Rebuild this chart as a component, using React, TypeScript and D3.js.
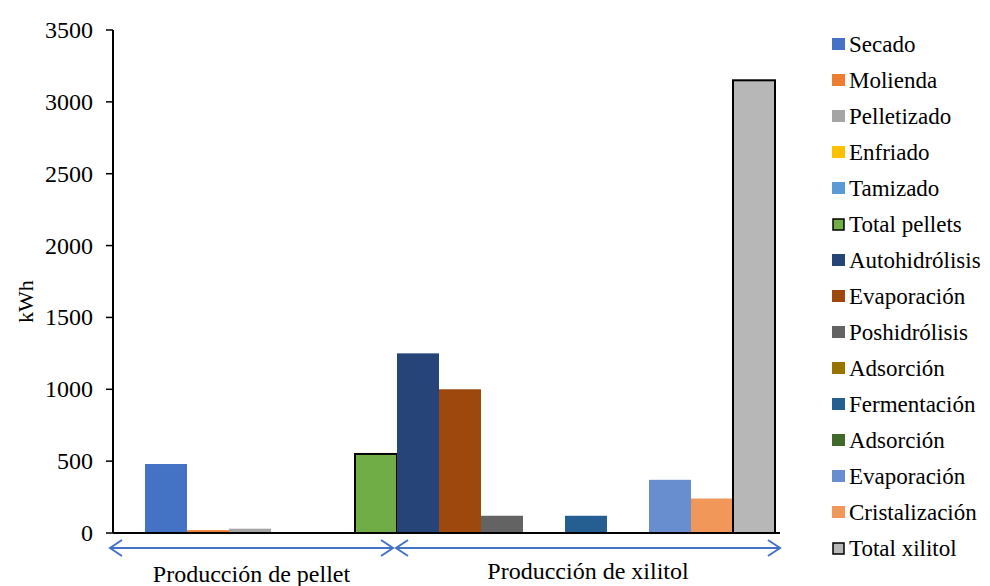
import React from "react";
import * as d3 from "d3";

// Energy consumption per process stage (kWh)
const stages = [
  "Secado", "Molienda", "Pelletizado", "Enfriado", "Tamizado", "Total pellets",
  "Autohidrólisis", "Evaporación", "Poshidrólisis", "Adsorción", "Fermentación",
  "Adsorción", "Evaporación", "Cristalización", "Total xilitol",
];
const energy = [480, 20, 30, 5, 0, 550, 1250, 1000, 120, 3, 120, 0, 370, 240, 3150];
const colors = [
  "#4472C4", "#ED7D31", "#A5A5A5", "#FFC000", "#5B9BD5", "#70AD47",
  "#264478", "#9E480E", "#636363", "#997300", "#255E91", "#43682B",
  "#698ED0", "#F1975A", "#B7B7B7",
];
const totals = [false, false, false, false, false, true, false, false, false, false, false, false, false, false, true];
const yTicks = [0, 500, 1000, 1500, 2000, 2500, 3000, 3500];
const groups = [
  { label: "Producción de pellet", from: 0, to: 6 },
  { label: "Producción de xilitol", from: 6, to: 15 },
];

const W = 990;
const H = 586;
const FONT = "Liberation Serif";
const CSS = `#energy-chart text, svg#energy-chart text { font-family: "Liberation Serif", "Times New Roman", Tinos, serif !important; }`;

export default function App() {
  const axisX = 113;
  const plotRight = 780;
  const y = d3.scaleLinear().domain([0, 3500]).range([533, 30]);
  const x = d3
    .scaleBand<number>()
    .domain(d3.range(stages.length))
    .range([145, 775])
    .padding(0);
  const arrowY = 548;
  const arrowColor = "#4472C4";
  const groupX = (i: number) => (i === 0 ? 110 : i >= stages.length ? plotRight : (x(i) as number) - 3);

  return (
    <svg
      id="energy-chart"
      width={W}
      height={H}
      fontFamily={FONT}
      style={{ position: "absolute", left: 0, top: 0, display: "block" }}
    >
      <style>{CSS}</style>
      <rect x={0} y={0} width={W} height={H} fill="#fff" />
      {/* bars */}
      {energy.map((v, i) => (
        <rect
          key={i}
          x={x(i)}
          y={y(v)}
          width={x.bandwidth()}
          height={y(0) - y(v)}
          fill={colors[i]}
          stroke={totals[i] ? "#000" : "none"}
          strokeWidth={totals[i] ? 2 : 0}
        />
      ))}

      {/* y axis */}
      <line x1={axisX} x2={axisX} y1={y(3500)} y2={y(0)} stroke="#000" strokeWidth={2} />
      {yTicks.map((t) => (
        <g key={t}>
          <line x1={axisX - 7} x2={axisX} y1={y(t)} y2={y(t)} stroke="#000" strokeWidth={1.5} />
          <text x={93} y={y(t) + 8} textAnchor="end" fontFamily={FONT} fontSize={24} fill="#000">
            {t}
          </text>
        </g>
      ))}
      {/* x axis baseline */}
      <line x1={axisX} x2={plotRight} y1={y(0)} y2={y(0)} stroke="#000" strokeWidth={2} />

      <text
        transform={`translate(33, ${y(1610)}) rotate(-90)`}
        textAnchor="middle"
        fontFamily={FONT}
        fontSize={22}
        fill="#000"
      >
        kWh
      </text>

      {/* group arrows and labels */}
      {groups.map((g, gi) => {
        const x0 = groupX(g.from) + (gi === 0 ? 0 : 2);
        const x1 = groupX(g.to) - (gi === 0 ? 1 : 0);
        const ah = 12;
        const aw = 8;
        return (
          <g key={gi}>
            <line x1={x0} x2={x1} y1={arrowY} y2={arrowY} stroke={arrowColor} strokeWidth={2} />
            <path
              d={`M${x0 + ah},${arrowY - aw} L${x0},${arrowY} L${x0 + ah},${arrowY + aw}`}
              fill="none"
              stroke={arrowColor}
              strokeWidth={2}
            />
            <path
              d={`M${x1 - ah},${arrowY - aw} L${x1},${arrowY} L${x1 - ah},${arrowY + aw}`}
              fill="none"
              stroke={arrowColor}
              strokeWidth={2}
            />
            <text
              x={(x0 + x1) / 2}
              y={gi === 0 ? 582 : 579}
              textAnchor="middle"
              fontFamily={FONT}
              fontSize={24}
              fill="#000"
            >
              {g.label}
            </text>
          </g>
        );
      })}

      {/* legend */}
      {stages.map((s, i) => {
        const cy = 44 + i * 36;
        return (
          <g key={i}>
            <rect
              x={totals[i] ? 833 : 832}
              y={cy - 6 + (totals[i] ? 1 : 0)}
              width={totals[i] ? 11 : 13}
              height={totals[i] ? 11 : 12}
              fill={colors[i]}
              stroke={totals[i] ? "#000" : "none"}
              strokeWidth={totals[i] ? 1.5 : 0}
            />
            <text x={849} y={cy + 8} fontFamily={FONT} fontSize={23} fill="#000">
              {s}
            </text>
          </g>
        );
      })}
    </svg>
  );
}
